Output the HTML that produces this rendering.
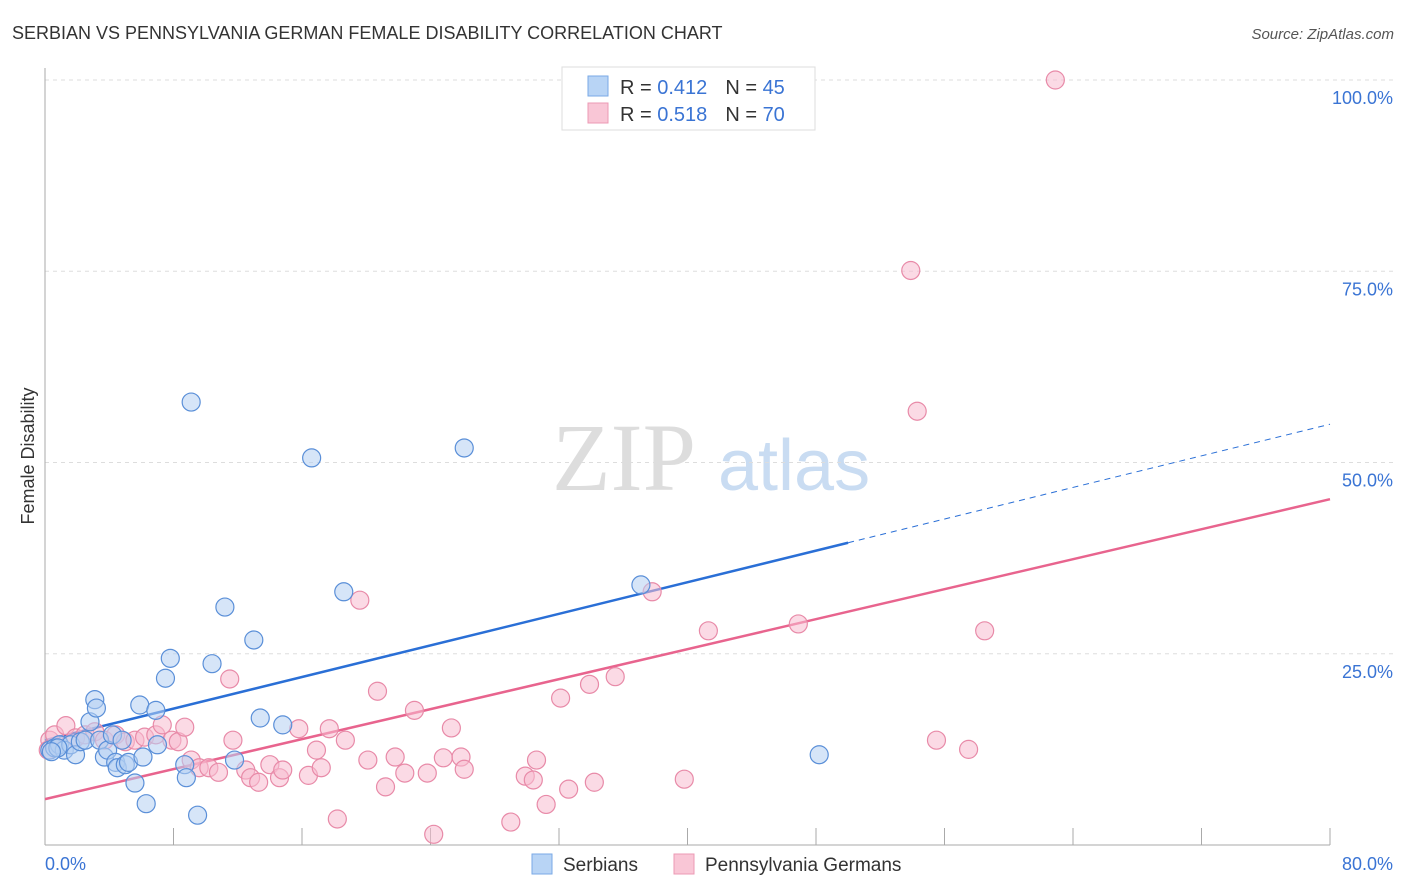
<!DOCTYPE html>
<html><head><meta charset="utf-8"><style>
body{margin:0;background:#fff;font-family:"Liberation Sans",sans-serif;}
svg{display:block}
</style></head><body>
<svg id="chart" width="1406" height="892">
<text x="12" y="39" font-size="18" fill="#333">SERBIAN VS PENNSYLVANIA GERMAN FEMALE DISABILITY CORRELATION CHART</text>
<text x="1394" y="39" font-size="15" fill="#555" font-style="italic" text-anchor="end">Source: ZipAtlas.com</text>
<text x="34" y="456" font-size="18" fill="#333" text-anchor="middle" transform="rotate(-90 34 456)">Female Disability</text>
<g>
<text x="552" y="490" font-size="96" font-family="Liberation Serif,serif" fill="#ddd">ZIP</text>
<text x="718" y="490" font-size="72" fill="#c9dcf2">atlas</text>
</g>
<g id="grid"></g><g id="axes"></g><g id="lines"></g><g id="pts"></g>
<g>
<rect x="562" y="67" width="253" height="63" fill="#fff" stroke="#ddd"/>
<rect x="588" y="76" width="20" height="20" fill="#b8d4f5" stroke="#7aa9e6"/>
<rect x="588" y="103" width="20" height="20" fill="#f9c6d6" stroke="#ec9ab4"/>
<text x="620" y="94" font-size="20" fill="#333">R = <tspan fill="#3a74d4">0.412</tspan><tspan dx="18">N = </tspan><tspan fill="#3a74d4">45</tspan></text>
<text x="620" y="121" font-size="20" fill="#333">R = <tspan fill="#3a74d4">0.518</tspan><tspan dx="18">N = </tspan><tspan fill="#3a74d4">70</tspan></text>
</g>
<g>
<rect x="532" y="854" width="20" height="20" fill="#b8d4f5" stroke="#7aa9e6"/>
<text x="563" y="871" font-size="19" fill="#333">Serbians</text>
<rect x="674" y="854" width="20" height="20" fill="#f9c6d6" stroke="#ec9ab4"/>
<text x="705" y="871" font-size="19" fill="#333">Pennsylvania Germans</text>
</g>
</svg>
<script>
const xTicks=[0,8,16,24,32,40,48,56,64,72,80];
const yTicks=[25,50,75,100];
const yTickLabels=["25.0%","50.0%","75.0%","100.0%"];
const xEndLabels=["0.0%","80.0%"];
const serbX=[0.3,0.6,0.9,1.2,1.6,1.9,2.2,2.5,2.8,3.1,3.2,3.4,3.7,3.9,4.2,4.4,4.5,4.8,5.0,5.2,5.6,5.9,6.1,6.3,6.9,7.0,7.5,7.8,8.7,8.8,9.1,9.5,10.4,11.2,11.8,13.0,13.4,14.8,16.6,18.6,26.1,37.1,48.2,0.8,0.4];
const serbY=[12.4,12.7,13.1,12.4,13.1,11.8,13.5,13.7,16.1,19.0,17.9,13.7,11.5,12.4,14.4,10.8,10.1,13.7,10.5,10.8,8.1,18.3,11.5,5.4,17.6,13.1,21.8,24.4,10.5,8.8,57.9,3.9,23.7,31.1,11.1,26.8,16.6,15.7,50.6,33.1,51.9,34.0,11.8,12.7,12.2];
const penX=[0.3,0.6,1.3,1.9,2.5,3.1,3.7,4.4,5.0,5.6,6.2,6.9,7.3,7.9,8.3,8.7,9.1,9.6,10.2,10.8,11.5,11.7,12.5,12.8,13.3,14.0,14.6,14.8,15.8,16.4,16.9,17.2,17.7,18.2,18.7,19.6,20.1,20.7,21.2,21.8,22.4,23.0,23.8,24.2,24.8,25.3,25.9,26.1,29.0,29.9,30.4,30.6,31.2,32.1,32.6,33.9,34.2,35.5,37.8,39.8,41.3,46.9,53.9,54.3,55.5,57.5,58.5,62.9,0.2];
const penY=[13.7,14.4,15.6,14.0,14.4,14.8,13.7,14.4,13.5,13.7,14.1,14.4,15.7,13.7,13.5,15.4,11.1,10.1,10.1,9.5,21.7,13.7,9.8,8.8,8.2,10.5,8.8,9.8,15.2,9.1,12.4,10.1,15.2,3.4,13.7,32.0,11.1,20.1,7.6,11.5,9.4,17.6,9.4,1.4,11.4,15.3,11.5,9.9,3.0,9.0,8.5,11.1,5.3,19.2,7.3,21.0,8.2,22.0,33.1,8.6,28.0,28.9,75.1,56.7,13.7,12.5,28.0,100,12.4];
const trendSerb=[13.7,55.0,50.0]; // y at x=0, y at x=80, solid end x
const trendPen=[6.0,45.2];
const NS="http://www.w3.org/2000/svg";
const X=v=>45+v/80*1285, Y=v=>845-v/100*765;
function mk(tag,attrs,parent){const e=document.createElementNS(NS,tag);for(const k in attrs)e.setAttribute(k,attrs[k]);document.getElementById(parent).appendChild(e);return e;}
yTicks.forEach((t,i)=>{
 const l=mk('line',{x1:45,x2:1394,y1:Y(t),y2:Y(t),stroke:'#ddd','stroke-dasharray':'4 4'},'grid');
 
 
 const tx=mk('text',{x:1393,y:Y(t)+24,'font-size':18,fill:'#3a74d4','text-anchor':'end'},'grid');
 tx.textContent=yTickLabels[i];
 
 
});
let ax=mk('line',{x1:45,x2:45,y1:68,y2:845,stroke:'#aaa'},'axes');


ax=mk('line',{x1:45,x2:1330,y1:845,y2:845,stroke:'#aaa'},'axes');


xTicks.forEach(t=>{
 const l=mk('line',{x1:X(t),x2:X(t),y1:828,y2:845,stroke:'#aaa'},'axes');
 
 
});
[[0,'start'],[80,'end']].forEach((p,i)=>{
 const tx=mk('text',{x:X(p[0])+(i?63:0),y:870,'font-size':18,fill:'#3a74d4','text-anchor':p[1]},'axes');
 tx.textContent=xEndLabels[i];
 
 
});
function ptsDraw(xs,ys,fill,stroke,name){
 xs.forEach((x,i)=>{
  const c=mk('circle',{cx:X(x),cy:Y(ys[i]),r:9,fill:fill,'fill-opacity':0.55,stroke:stroke,'stroke-width':1.2},'pts');
  
  
 });
}
ptsDraw(penX,penY,'#f7bccf','#e88aa8','pa-german-point');
ptsDraw(serbX,serbY,'#b5d0f2','#5a8fd8','serbian-point');
const sy=x=>trendSerb[0]+(trendSerb[1]-trendSerb[0])*x/80;
let tl=mk('line',{x1:X(0),y1:Y(sy(0)),x2:X(trendSerb[2]),y2:Y(sy(trendSerb[2])),stroke:'#2a6fd6','stroke-width':2.5},'lines');


tl=mk('line',{x1:X(trendSerb[2]),y1:Y(sy(trendSerb[2])),x2:X(80),y2:Y(sy(80)),stroke:'#2a6fd6','stroke-width':1,'stroke-dasharray':'6 5'},'lines');


tl=mk('line',{x1:X(0),y1:Y(trendPen[0]),x2:X(80),y2:Y(trendPen[1]),stroke:'#e8648e','stroke-width':2.5},'lines');


</script>
</body></html>
